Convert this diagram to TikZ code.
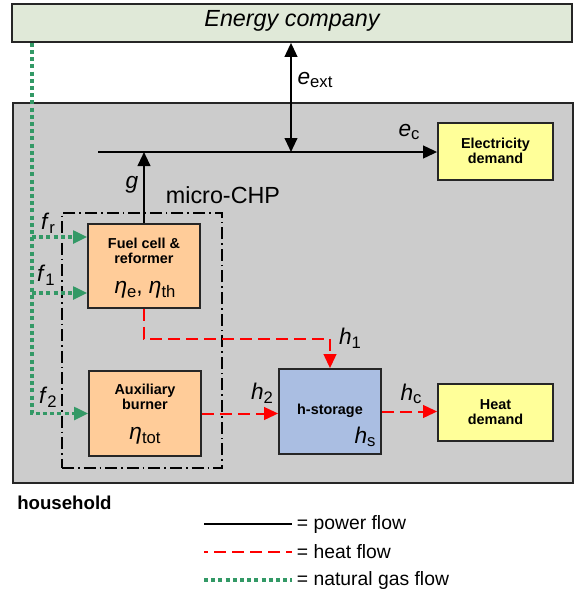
\documentclass[tikz,border=0pt]{standalone}
\usepackage{fontspec}
\setmainfont{Liberation Sans}
\usetikzlibrary{arrows.meta}
\newdimen\upx \upx=0.75pt
\definecolor{ecfill}{RGB}{224,233,216}
\definecolor{hhfill}{RGB}{204,204,204}
\definecolor{orfill}{RGB}{255,204,153}
\definecolor{stfill}{RGB}{170,190,226}
\definecolor{yefill}{RGB}{255,255,153}
\definecolor{gasgreen}{RGB}{51,153,102}
\definecolor{heatred}{RGB}{255,0,0}
\newcommand\lbl[2]{\textit{#1}\raisebox{-0.3ex}{\fontsize{12.5}{13}\selectfont #2}}
\tikzset{
 box/.style={draw=black!85, line width=1.3pt, rectangle, inner sep=0pt},
 power/.style={line width=1.5pt, draw=black},
 heat/.style={line width=1.5pt, draw=heatred, dash pattern=on 9pt off 4.5pt},
 gas/.style={line width=2.3pt, draw=gasgreen, dash pattern=on 3pt off 2.4pt},
 tip/.style={-{Triangle[length=10.5pt,width=9.5pt]}},
 boxtxt/.style={font=\fontsize{10.8}{11.5}\selectfont\bfseries, align=center},
 var/.style={font=\fontsize{17}{20}\selectfont},
 legtxt/.style={font=\fontsize{14.5}{17}\selectfont, anchor=west, inner sep=0pt},
}
\begin{document}
\begin{tikzpicture}[x=0.75pt,y=-0.75pt]
\useasboundingbox (0,0) rectangle (578,594);
% frames
\node[box, fill=hhfill, minimum width=560\upx, minimum height=380\upx] (hh) at (293,293) {};
\node[box, fill=ecfill, minimum width=560\upx, minimum height=38\upx] (ec) at (292,23) {};
\node[font=\fontsize{17.5}{20}\selectfont\itshape] (ectxt) at (292,21) {Energy company};
% boxes
\node[box, fill=orfill, minimum width=112\upx, minimum height=84\upx] (fc) at (144,266) {};
\node[box, fill=orfill, minimum width=112\upx, minimum height=85\upx] (aux) at (145,413.5) {};
\node[box, fill=stfill, minimum width=102\upx, minimum height=85\upx] (st) at (330,411.5) {};
\node[box, fill=yefill, minimum width=115\upx, minimum height=57\upx] (ed) at (495.5,151.5) {};
\node[box, fill=yefill, minimum width=115\upx, minimum height=57\upx] (hd) at (495.5,412.5) {};
\node[draw, line width=1.2pt, dash pattern=on 9pt off 3pt on 1.2pt off 3pt, minimum width=160\upx, minimum height=255\upx, inner sep=0pt] (chp) at (142,340.5) {};
% power
\coordinate (pl) at (98,152);
\coordinate (ej) at (291,152);
\draw[power, tip] (pl) -- (pl -| ed.west);
\draw[power, tip] (fc.north) -- (fc.north |- pl);
\draw[power, {Triangle[length=10.5pt,width=9.5pt]}-{Triangle[length=10.5pt,width=9.5pt]}] (ej |- ec.south) -- (ej);
% gas
\coordinate (gx) at (32,0);
\coordinate (fr) at (32,237);
\coordinate (fa) at (32,293);
\draw[gas, tip] (gx |- ec.south) |- (aux.west);
\draw[gas, tip] (fr) -- (fr -| fc.west);
\draw[gas, tip] (fa) -- (fa -| fc.west);
% heat
\draw[heat, tip] (fc.south) -- ++(0,30) -| (st.north);
\draw[heat, tip] (aux.east) -- (aux.east -| st.west);
\draw[heat, tip] (st.east) -- (st.east -| hd.west);
% labels
\node[var] (lext) at (315,80) {\lbl{e}{ext}};
\node[var] (lec) at (409,132) {\lbl{e}{c}};
\node[var] (lg) at (132,185) {\textit{g}};
\node[font=\fontsize{17.5}{20}\selectfont] (lchp) at (223,195) {micro-CHP};
\node[var] (lfr) at (48,223) {\lbl{f}{r}};
\node[var] (lf1) at (46,275) {\lbl{f}{1}};
\node[var] (lf2) at (48,397) {\lbl{f}{2}};
\node[var] (leta) at (145,290) {\lbl{η}{e}, \lbl{η}{th}};
\node[var] (ltot) at (145,436) {\lbl{η}{tot}};
\node[var] (lh1) at (350,338) {\lbl{h}{1}};
\node[var] (lh2) at (262,393) {\lbl{h}{2}};
\node[var] (lhc) at (411,394) {\lbl{h}{c}};
\node[var] (lhs) at (365,437) {\lbl{h}{s}};
% box texts
\node[boxtxt] (tfc) at (144,251) {Fuel cell \&\\reformer};
\node[boxtxt] (taux) at (145,397) {Auxiliary\\burner};
\node[boxtxt] (tst) at (330,411) {h-storage};
\node[boxtxt] (ted) at (495.5,151) {Electricity\\demand};
\node[boxtxt] (thd) at (495.5,412) {Heat\\demand};
% legend
\node[font=\fontsize{14}{16}\selectfont\bfseries, anchor=west, inner sep=0pt] (lhh) at (17,503) {household};
\coordinate (l1a) at (204,524); \coordinate (l1b) at (292,524);
\coordinate (l2a) at (204,552); \coordinate (l2b) at (292,552);
\coordinate (l3a) at (204,580); \coordinate (l3b) at (292,580);
\draw[power] (l1a) -- (l1b);
\draw[heat, dash phase=6pt] (l2a) -- (l2b);
\draw[gas] (l3a) -- (l3b);
\node[legtxt] (t1) at ([xshift=3.5pt]l1b) {= power flow};
\node[legtxt] (t2) at ([xshift=3.5pt]l2b) {= heat flow};
\node[legtxt] (t3) at ([xshift=3.5pt]l3b) {= natural gas flow};
\end{tikzpicture}
\end{document}
